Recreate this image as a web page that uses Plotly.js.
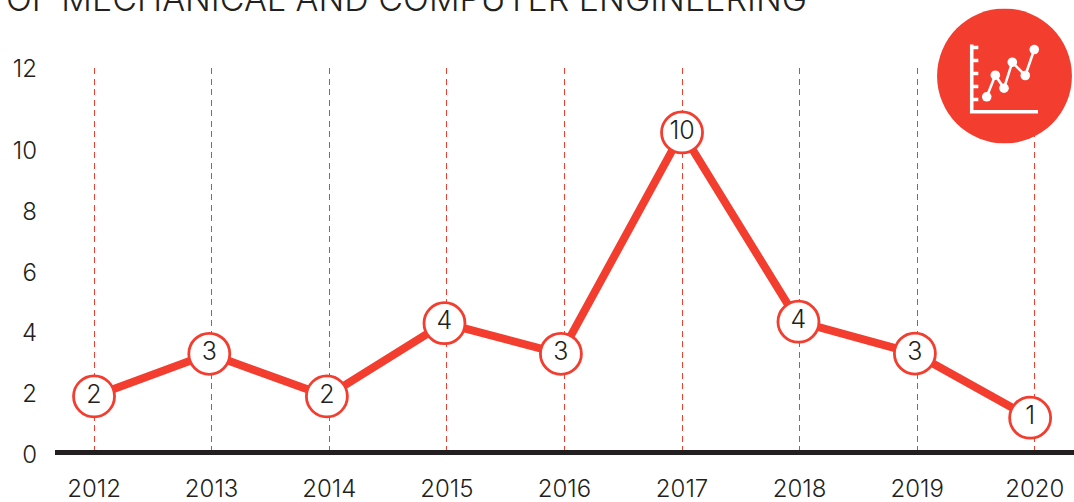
<!DOCTYPE html>
<html>
<head>
<meta charset="utf-8">
<script src="https://cdn.plot.ly/plotly-3.0.1.min.js"></script>
<style>html,body{margin:0;padding:0;background:#fff;overflow:hidden}</style>
</head>
<body>
<div id="chart" style="width:1074px;height:502px"></div>
<script>
const titleText = "OF MECHANICAL AND COMPUTER ENGINEERING";
const years = [2012, 2013, 2014, 2015, 2016, 2017, 2018, 2019, 2020];
const pointLabels = ["2", "3", "2", "4", "3", "10", "4", "3", "1"];
const pointYears = [2012.0, 2012.98, 2013.98, 2014.98, 2015.97, 2017.0, 2017.99, 2018.98, 2019.96];
const pointHeights = [1.85, 3.25, 1.85, 4.26, 3.25, 10.54, 4.31, 3.26, 1.15];
const yTickPositions = [-0.06, 1.94, 3.94, 5.94, 7.94, 9.94, 12.63];
const yTickLabels = ["0", "2", "4", "6", "8", "10", "12"];

const RED = "#f33d2f", INK = "#231f20", FONT = "Inter, 'Noto Sans', sans-serif";
const PLOT_H = 387.4;

const icon = `<svg xmlns="http://www.w3.org/2000/svg" width="135" height="135" viewBox="0 0 135 135">
<circle cx="67.5" cy="67.5" r="67.5" fill="${RED}"/>
<g stroke="#fff" fill="none" stroke-width="3.6">
<path d="M34.7 36V103.3H101"/>
<path d="M34.7 39H41.3M34.7 52H41.3M34.7 65H41.3M34.7 78H41.3M34.7 91H41.3"/>
<path stroke-width="2.6" d="M49.7 88.3L58.3 66.7L67 79.7L75.3 53.7L88.3 67L97.3 41"/>
</g>
<g fill="#fff"><circle cx="49.7" cy="88.3" r="4.8"/><circle cx="58.3" cy="66.7" r="4.8"/><circle cx="67" cy="79.7" r="4.8"/><circle cx="75.3" cy="53.7" r="4.8"/><circle cx="88.3" cy="67" r="4.8"/><circle cx="97.3" cy="41" r="4.8"/></g>
</svg>`;

const trace = {
  x: pointYears, y: pointHeights, text: pointLabels,
  mode: "lines+markers+text", textposition: "middle center",
  textfont: {family: FONT, size: 25, color: INK, weight: 300},
  line: {color: RED, width: 8},
  marker: {size: 41, color: "#fff", line: {color: RED, width: 2.8}},
  cliponaxis: false, hoverinfo: "skip"
};

const layout = {
  width: 1074, height: 502,
  margin: {l: 55, r: 0, t: 68, b: 46.6, pad: 0},
  paper_bgcolor: "#fff", plot_bgcolor: "#fff",
  showlegend: false,
  font: {family: FONT, color: INK, size: 24, weight: 300},
  xaxis: {
    range: [2011.668, 2020.333], tickmode: "array", tickvals: years, ticktext: years.map(String),
    showgrid: true, gridcolor: RED, gridwidth: 1, griddash: "6px,4.5px",
    showline: false, zeroline: false, ticks: "",
    ticklabelstandoff: 17, tickfont: {family: FONT, size: 24, color: INK, weight: 300}
  },
  yaxis: {
    range: [-0.08, 12.66], tickmode: "array", tickvals: yTickPositions, ticktext: yTickLabels,
    showgrid: false, showline: false, ticks: "",
    zeroline: true, zerolinecolor: INK, zerolinewidth: 5,
    ticklabelstandoff: 17, tickfont: {family: FONT, size: 24, color: INK, weight: 300}
  },
  annotations: [{
    text: titleText, xref: "paper", yref: "paper", xanchor: "left", yanchor: "bottom", showarrow: false,
    x: (5 - 55) / 1019, y: 1 + 48 / PLOT_H, borderpad: 0,
    font: {family: FONT, size: 34, color: INK, weight: 300}
  }],
  images: [{
    source: "data:image/svg+xml;utf8," + encodeURIComponent(icon),
    xref: "paper", yref: "paper", x: (937 - 55) / 1019, y: (455.4 - 8.5) / PLOT_H,
    sizex: 135 / 1019, sizey: 135 / PLOT_H, xanchor: "left", yanchor: "top", layer: "above"
  }]
};

Plotly.newPlot("chart", [trace], layout, {displayModeBar: false, staticPlot: true});
</script>
</body>
</html>
